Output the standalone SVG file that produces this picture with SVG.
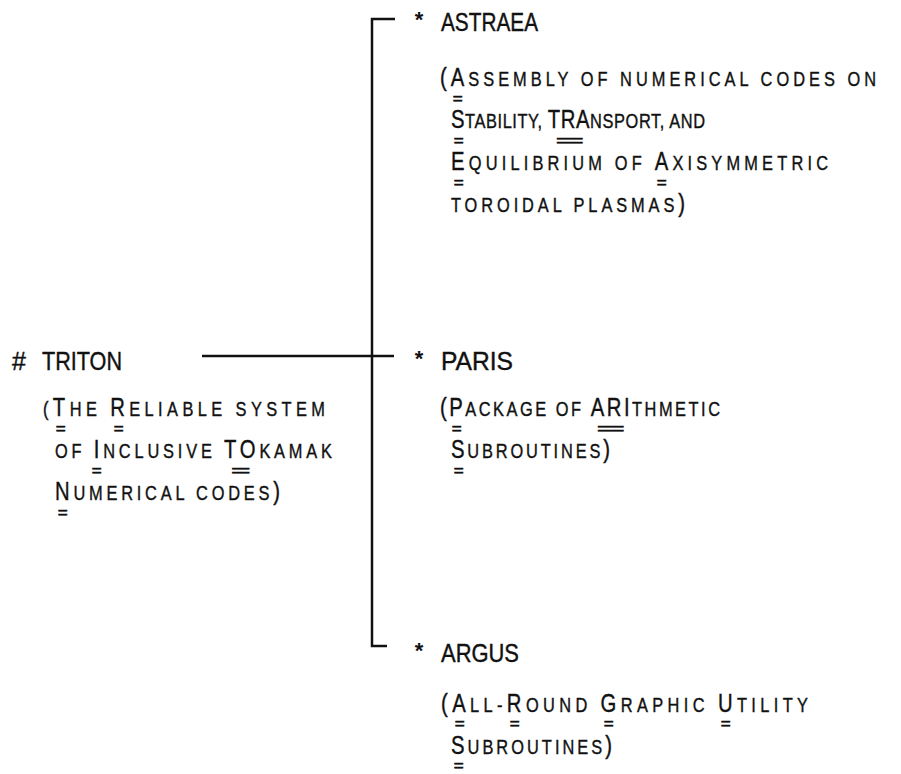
<svg xmlns="http://www.w3.org/2000/svg" width="901" height="774" viewBox="0 0 901 774">
<style>
.t{font-family:"Liberation Sans",Arial,sans-serif;fill:#111;stroke:#111;stroke-width:0.4;font-size:21px}
.c{font-size:26px}
.h{font-family:"Liberation Sans",Arial,sans-serif;fill:#111;stroke:#111;stroke-width:0.4;font-size:25px}
.ast{font-family:"Liberation Sans",Arial,sans-serif;fill:#111;font-size:22px;font-weight:bold;text-anchor:middle}
.eq{font-family:"Liberation Sans",Arial,sans-serif;fill:#111;stroke:#111;stroke-width:0.7;font-size:17px;text-anchor:middle;letter-spacing:-1.5px}
.ln{stroke:#111;stroke-width:2.5;fill:none}
</style>
<rect width="901" height="774" fill="#fff"/>
<g id="connectors">
<path class="ln" d="M395,19 H372 V646 H387"/>
<path class="ln" d="M202,356 H394"/>
</g>
<g id="node-triton">
<text class="h" x="12" y="370">#</text>
<text class="h" x="42" y="370" textLength="80" lengthAdjust="spacingAndGlyphs">TRITON</text>
<text class="t" transform="translate(43,416) scale(0.78,1)" textLength="361.5" lengthAdjust="spacing">(<tspan class="c">T</tspan>HE <tspan class="c">R</tspan>ELIABLE SYSTEM</text>
<text class="eq" x="60" y="434">=</text><text class="eq" x="118" y="434">=</text>
<text class="t" transform="translate(55,458) scale(0.78,1)" textLength="355.1" lengthAdjust="spacing">OF <tspan class="c">I</tspan>NCLUSIVE <tspan class="c">TO</tspan>KAMAK</text>
<text class="eq" x="96" y="476">=</text><text class="eq" x="240" y="476">==</text>
<text class="t" transform="translate(55,500) scale(0.78,1)" textLength="288.5" lengthAdjust="spacing"><tspan class="c">N</tspan>UMERICAL CODES<tspan class="c">)</tspan></text>
<text class="eq" x="62" y="518">=</text>
</g>
<g id="node-astraea">
<text class="ast" x="419" y="27">*</text>
<text class="h" x="441" y="31" textLength="97" lengthAdjust="spacingAndGlyphs">ASTRAEA</text>
<text class="t" transform="translate(440,86) scale(0.78,1)" textLength="559" lengthAdjust="spacing"><tspan class="c">(A</tspan>SSEMBLY OF NUMERICAL CODES ON</text>
<text class="eq" x="457" y="104">=</text>
<text class="t" transform="translate(451,128) scale(0.78,1)" textLength="325.6" lengthAdjust="spacing"><tspan class="c">S</tspan>TABILITY, <tspan class="c">TRA</tspan>NSPORT, AND</text>
<text class="eq" x="458" y="146">=</text><text class="eq" x="569" y="146">===</text>
<text class="t" transform="translate(451,170) scale(0.78,1)" textLength="483.3" lengthAdjust="spacing"><tspan class="c">E</tspan>QUILIBRIUM OF <tspan class="c">A</tspan>XISYMMETRIC</text>
<text class="eq" x="458" y="188">=</text><text class="eq" x="661" y="188">=</text>
<text class="t" transform="translate(451,212) scale(0.78,1)" textLength="300" lengthAdjust="spacing">TOROIDAL PLASMAS<tspan class="c">)</tspan></text>
</g>
<g id="node-paris">
<text class="ast" x="419" y="366">*</text>
<text class="h" x="441" y="370" textLength="72" lengthAdjust="spacingAndGlyphs">PARIS</text>
<text class="t" transform="translate(440,416) scale(0.78,1)" textLength="359" lengthAdjust="spacing"><tspan class="c">(P</tspan>ACKAGE OF <tspan class="c">ARI</tspan>THMETIC</text>
<text class="eq" x="456" y="434">=</text><text class="eq" x="610" y="434">===</text>
<text class="t" transform="translate(451,458) scale(0.78,1)" textLength="203.8" lengthAdjust="spacing"><tspan class="c">S</tspan>UBROUTINES<tspan class="c">)</tspan></text>
<text class="eq" x="458" y="476">=</text>
</g>
<g id="node-argus">
<text class="ast" x="419" y="658">*</text>
<text class="h" x="441" y="662" textLength="78" lengthAdjust="spacingAndGlyphs">ARGUS</text>
<text class="t" transform="translate(441,712) scale(0.78,1)" textLength="470.5" lengthAdjust="spacing"><tspan class="c">(A</tspan>LL-<tspan class="c">R</tspan>OUND <tspan class="c">G</tspan>RAPHIC <tspan class="c">U</tspan>TILITY</text>
<text class="eq" x="459" y="729">=</text><text class="eq" x="514" y="729">=</text><text class="eq" x="608" y="729">=</text><text class="eq" x="725" y="729">=</text>
<text class="t" transform="translate(451,754) scale(0.78,1)" textLength="206.4" lengthAdjust="spacing"><tspan class="c">S</tspan>UBROUTINES<tspan class="c">)</tspan></text>
<text class="eq" x="458" y="771">=</text>
</g>
</svg>
